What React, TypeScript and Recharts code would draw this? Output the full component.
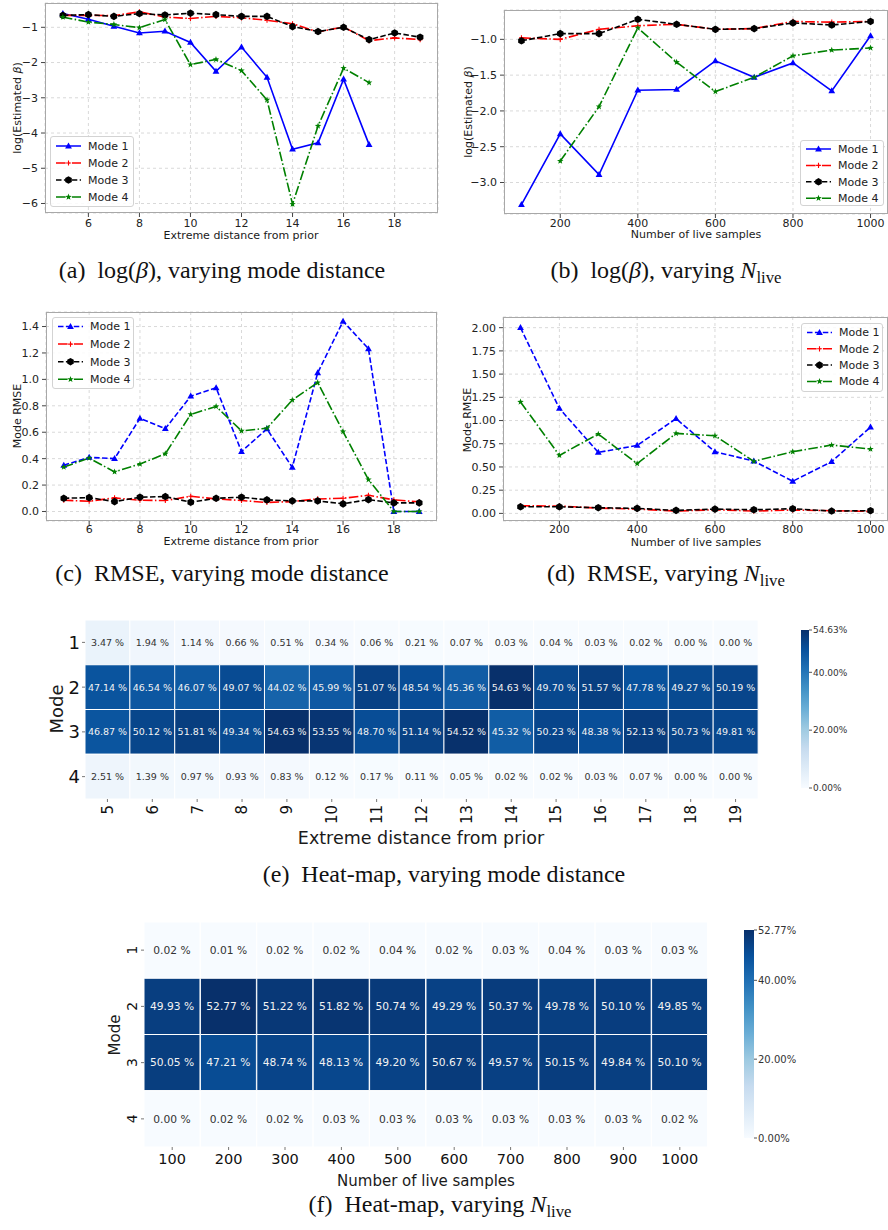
import React from 'react'
import { LineChart, Line, XAxis, YAxis, CartesianGrid, BarChart, Bar, Cell, LabelList } from 'recharts'

// x values
const distances = [5, 6, 7, 8, 9, 10, 11, 12, 13, 14, 15, 16, 17, 18, 19]
const liveSamples = [100, 200, 300, 400, 500, 600, 700, 800, 900, 1000]

// (a) log(beta) vs mode distance
const aMode1 = [-0.61, -0.77, -0.97, -1.16, -1.11, -1.43, -2.25, -1.56, -2.42, -4.46, -4.28, -2.47, -4.33, null, null]
const aMode2 = [-0.66, -0.66, -0.67, -0.56, -0.71, -0.75, -0.69, -0.73, -0.8, -0.9, -1.13, -0.99, -1.38, -1.3, -1.35]
const aMode3 = [-0.66, -0.64, -0.69, -0.61, -0.65, -0.6, -0.64, -0.69, -0.69, -0.98, -1.12, -1.0, -1.35, -1.16, -1.28]
const aMode4 = [-0.71, -0.85, -0.92, -1.01, -0.78, -2.06, -1.91, -2.23, -3.06, -6.02, -3.8, -2.16, -2.57, null, null]

// (b) log(beta) vs live samples
const bMode1 = [-3.31, -2.32, -2.89, -1.71, -1.7, -1.3, -1.53, -1.33, -1.72, -0.95]
const bMode2 = [-0.98, -1.0, -0.86, -0.81, -0.79, -0.86, -0.85, -0.75, -0.76, -0.75]
const bMode3 = [-1.02, -0.92, -0.92, -0.72, -0.79, -0.86, -0.85, -0.77, -0.8, -0.75]
const bMode4 = [null, -2.7, -1.94, -0.84, -1.32, -1.73, -1.53, -1.23, -1.15, -1.12]

// (c) RMSE vs mode distance
const cMode1 = [0.35, 0.41, 0.4, 0.705, 0.627, 0.873, 0.936, 0.454, 0.625, 0.334, 1.049, 1.44, 1.232, 0.0, 0.0]
const cMode2 = [0.085, 0.078, 0.103, 0.085, 0.083, 0.115, 0.095, 0.083, 0.068, 0.075, 0.095, 0.1, 0.123, 0.088, 0.073]
const cMode3 = [0.1, 0.105, 0.075, 0.108, 0.113, 0.07, 0.1, 0.108, 0.088, 0.08, 0.08, 0.058, 0.09, 0.065, 0.065]
const cMode4 = [0.336, 0.404, 0.3, 0.359, 0.437, 0.735, 0.795, 0.61, 0.63, 0.843, 0.976, 0.605, 0.241, 0.0, 0.0]

// (d) RMSE vs live samples
const dMode1 = [2.0, 1.13, 0.657, 0.732, 1.02, 0.664, 0.564, 0.346, 0.557, 0.929]
const dMode2 = [0.082, 0.079, 0.057, 0.046, 0.025, 0.039, 0.025, 0.036, 0.029, 0.021]
const dMode3 = [0.071, 0.071, 0.061, 0.054, 0.032, 0.046, 0.039, 0.05, 0.025, 0.029]
const dMode4 = [1.2, 0.625, 0.854, 0.536, 0.861, 0.836, 0.561, 0.664, 0.736, 0.693]

// (e) heat-map, share of samples per mode (%)
const eMode1 = [3.47, 1.94, 1.14, 0.66, 0.51, 0.34, 0.06, 0.21, 0.07, 0.03, 0.04, 0.03, 0.02, 0.0, 0.0]
const eMode2 = [47.14, 46.54, 46.07, 49.07, 44.02, 45.99, 51.07, 48.54, 45.36, 54.63, 49.7, 51.57, 47.78, 49.27, 50.19]
const eMode3 = [46.87, 50.12, 51.81, 49.34, 54.63, 53.55, 48.7, 51.14, 54.52, 45.32, 50.23, 48.38, 52.13, 50.73, 49.81]
const eMode4 = [2.51, 1.39, 0.97, 0.93, 0.83, 0.12, 0.17, 0.11, 0.05, 0.02, 0.02, 0.03, 0.07, 0.0, 0.0]
const eMax = 54.63

// (f) heat-map vs live samples (%)
const fMode1 = [0.02, 0.01, 0.02, 0.02, 0.04, 0.02, 0.03, 0.04, 0.03, 0.03]
const fMode2 = [49.93, 52.77, 51.22, 51.82, 50.74, 49.29, 50.37, 49.78, 50.1, 49.85]
const fMode3 = [50.05, 47.21, 48.74, 48.13, 49.2, 50.67, 49.57, 50.15, 49.84, 50.1]
const fMode4 = [0.0, 0.02, 0.02, 0.03, 0.03, 0.03, 0.03, 0.03, 0.03, 0.02]
const fMax = 52.77

const modeNames = ['Mode 1', 'Mode 2', 'Mode 3', 'Mode 4']
const cbTicks = [0, 20, 40]

const SANS = '"DejaVu Sans", sans-serif'
const SERIF = '"Liberation Serif", "DejaVu Serif", serif'
const DASH = '5.5 2.4'
const DASHDOT = '9.6 2.4 1.5 2.4'

const BLUES = ['#f7fbff', '#deebf7', '#c6dbef', '#9ecae1', '#6baed6', '#4292c6', '#2171b5', '#08519c', '#08306b']

function hexToRgb(h: string) {
  return [1, 3, 5].map((i) => parseInt(h.slice(i, i + 2), 16))
}

function blues(t: number) {
  const c = Math.max(0, Math.min(1, t)) * 8
  const i = Math.min(7, Math.floor(c))
  const f = c - i
  const a = hexToRgb(BLUES[i])
  const b = hexToRgb(BLUES[i + 1])
  const m = a.map((v, k) => Math.round(v + (b[k] - v) * f))
  return `rgb(${m[0]},${m[1]},${m[2]})`
}

type Kind = 'tri' | 'plus' | 'hex' | 'star'

function Marker({ kind, cx, cy, color }: { kind: Kind; cx: number; cy: number; color: string }) {
  if (kind === 'tri') {
    return <polygon points={`${cx},${cy - 3.6} ${cx - 3.4},${cy + 2.4} ${cx + 3.4},${cy + 2.4}`} fill={color} />
  }
  if (kind === 'plus') {
    return <path d={`M${cx - 2.4},${cy}H${cx + 2.4}M${cx},${cy - 2.6}V${cy + 2.6}`} stroke={color} strokeWidth={1.1} fill="none" />
  }
  if (kind === 'hex') {
    const pts = [0, 1, 2, 3, 4, 5]
      .map((k) => {
        const a = (Math.PI / 3) * k - Math.PI / 2
        return `${cx + 3.8 * Math.cos(a)},${cy + 3.8 * Math.sin(a)}`
      })
      .join(' ')
    return <polygon points={pts} fill={color} />
  }
  const star = Array.from({ length: 10 }, (_, k) => {
    const r = k % 2 === 0 ? 3.4 : 1.4
    const a = (Math.PI / 5) * k - Math.PI / 2
    return `${cx + r * Math.cos(a)},${cy + r * Math.sin(a)}`
  }).join(' ')
  return <polygon points={star} fill={color} />
}

type SeriesDef = { key: string; name: string; color: string; kind: Kind; dash?: string }

function seriesFor(mode1Dash?: string): SeriesDef[] {
  return [
    { key: 'm1', name: modeNames[0], color: '#0000ff', kind: 'tri', dash: mode1Dash },
    { key: 'm2', name: modeNames[1], color: '#ff0000', kind: 'plus', dash: DASHDOT },
    { key: 'm3', name: modeNames[2], color: '#000000', kind: 'hex', dash: DASH },
    { key: 'm4', name: modeNames[3], color: '#008000', kind: 'star', dash: DASHDOT },
  ]
}

function makeDot(kind: Kind, color: string, id: string) {
  return (p: any) => {
    const k = `${id}-${p.index}`
    if (p.cx == null || p.cy == null || p.value == null || Number.isNaN(p.cy)) return <g key={k} />
    return <Marker key={k} kind={kind} cx={p.cx} cy={p.cy} color={color} />
  }
}

function fmt(d: number) {
  return (v: number) => (v < 0 ? '\u2212' + Math.abs(v).toFixed(d) : v.toFixed(d))
}

function LegendBox({ x, y, w, h, first, gap, series }: { x: number; y: number; w: number; h: number; first: number; gap: number; series: SeriesDef[] }) {
  return (
    <div
      style={{
        position: 'absolute', left: x, top: y, width: w, height: h, boxSizing: 'border-box',
        border: '1px solid #d3d3d3', borderRadius: 3, background: 'rgba(255,255,255,0.85)',
      }}
    >
      <svg width={w} height={h} style={{ position: 'absolute', left: -1, top: -1 }}>
        {series.map((s, i) => {
          const cy = first + i * gap
          return (
            <g key={s.key}>
              <line x1={6} x2={31} y1={cy} y2={cy} stroke={s.color} strokeWidth={1.5} strokeDasharray={s.dash} />
              <Marker kind={s.kind} cx={18.5} cy={cy} color={s.color} />
              <text x={38} y={cy} dy="0.36em" fontSize={11} fontFamily={SANS} fill="#222">{s.name}</text>
            </g>
          )
        })}
      </svg>
    </div>
  )
}

function AxisTitle({ x, y, rotate, size, children }: { x: number; y: number; rotate?: boolean; size: number; children: React.ReactNode }) {
  return (
    <div
      style={{
        position: 'absolute', left: x, top: y, whiteSpace: 'nowrap', lineHeight: 1,
        fontFamily: SANS, fontSize: size, color: '#1a1a1a',
        transform: rotate ? 'translate(-50%, -50%) rotate(-90deg)' : 'translate(-50%, -50%)',
      }}
    >
      {children}
    </div>
  )
}

type LinePanelProps = {
  left: number; top: number; width: number; height: number
  mTop: number; mRight: number; yAxisWidth: number; xAxisHeight: number; xTickMargin: number
  xs: number[]; m1: (number | null)[]; m2: (number | null)[]; m3: (number | null)[]; m4: (number | null)[]
  xDomain: [number, number]; xTicks: number[]
  yDomain: [number, number]; yTicks: number[]; yDigits: number
  mode1Dash?: string
  xLabel: string; xLabelPos: [number, number]
  yLabel: React.ReactNode; yLabelPos: [number, number]
  legend: { x: number; y: number; w: number; h: number; first: number; gap: number }
}

function LinePanel(p: LinePanelProps) {
  const data = p.xs.map((x, i) => ({ x, m1: p.m1[i], m2: p.m2[i], m3: p.m3[i], m4: p.m4[i] }))
  const series = seriesFor(p.mode1Dash)
  const plotW = p.width - p.yAxisWidth - p.mRight
  const plotH = p.height - p.mTop - p.xAxisHeight
  const tick = { fontSize: 11, fill: '#222', fontFamily: SANS }
  return (
    <div style={{ position: 'absolute', left: p.left, top: p.top, width: p.width, height: p.height }}>
      <LineChart width={p.width} height={p.height} data={data} margin={{ top: p.mTop, right: p.mRight, left: 0, bottom: 0 }}>
        <CartesianGrid stroke="#d9d9d9" strokeDasharray="3 3" />
        <XAxis
          type="number" dataKey="x" domain={p.xDomain} allowDataOverflow ticks={p.xTicks} interval={0}
          height={p.xAxisHeight} tick={tick} tickSize={4} tickMargin={p.xTickMargin} axisLine={false}
          tickLine={{ stroke: '#444' }}
        />
        <YAxis
          type="number" domain={p.yDomain} allowDataOverflow ticks={p.yTicks} interval={0}
          width={p.yAxisWidth} tick={tick} tickSize={4} tickMargin={3} axisLine={false}
          tickLine={{ stroke: '#444' }} tickFormatter={fmt(p.yDigits)}
        />
        {series.map((s) => (
          <Line
            key={s.key} type="linear" dataKey={s.key} name={s.name} stroke={s.color} strokeWidth={1.6}
            strokeDasharray={s.dash} dot={makeDot(s.kind, s.color, s.key)} activeDot={false}
            isAnimationActive={false} connectNulls={false}
          />
        ))}
      </LineChart>
      <div
        style={{
          position: 'absolute', left: p.yAxisWidth, top: p.mTop, width: plotW, height: plotH,
          border: '1px solid #a8a8a8', boxSizing: 'border-box', pointerEvents: 'none',
        }}
      />
      <AxisTitle x={p.xLabelPos[0]} y={p.xLabelPos[1]} size={11}>{p.xLabel}</AxisTitle>
      <AxisTitle x={p.yLabelPos[0]} y={p.yLabelPos[1]} size={11} rotate>{p.yLabel}</AxisTitle>
      <LegendBox {...p.legend} series={series} />
    </div>
  )
}

type HeatProps = {
  left: number; top: number; width: number; height: number
  mTop: number; mRight: number; yAxisWidth: number; xAxisHeight: number
  cols: number[]; rows: number[][]; vmax: number; cellFont: number
  rotateX: boolean; xFont: number; yFont: number; rotateY: boolean
}

function HeatPanel(p: HeatProps) {
  const data = p.cols.map((c, i) => ({
    col: String(c),
    v1: p.rows[0][i], v2: p.rows[1][i], v3: p.rows[2][i], v4: p.rows[3][i],
    s1: 1, s2: 1, s3: 1, s4: 1,
  }))
  const cellLabel = (props: any) => {
    const x = Number(props.x), y = Number(props.y), w = Number(props.width), h = Number(props.height)
    const v = Number(props.value)
    const dark = v / p.vmax > 0.55
    return (
      <text
        x={x + w / 2} y={y + h / 2} dy="0.36em" textAnchor="middle" fontSize={p.cellFont}
        fontFamily={SANS} fill={dark ? '#f2f2f2' : '#333'}
      >
        {v.toFixed(2)} %
      </text>
    )
  }
  const xTick = (t: any) =>
    p.rotateX ? (
      <text x={t.x} y={t.y} transform={`rotate(-90 ${t.x} ${t.y})`} textAnchor="end" dy="0.36em" fontSize={p.xFont} fontFamily={SANS} fill="#111">
        {t.payload.value}
      </text>
    ) : (
      <text x={t.x} y={t.y} textAnchor="middle" dy="0.75em" fontSize={p.xFont} fontFamily={SANS} fill="#111">
        {t.payload.value}
      </text>
    )
  const yTick = (t: any) => {
    const label = String(t.payload.value + 0.5)
    return p.rotateY ? (
      <text x={t.x} y={t.y} transform={`rotate(-90 ${t.x} ${t.y})`} textAnchor="middle" fontSize={p.yFont} fontFamily={SANS} fill="#111">
        {label}
      </text>
    ) : (
      <text x={t.x} y={t.y} textAnchor="end" dy="0.36em" fontSize={p.yFont} fontFamily={SANS} fill="#111">
        {label}
      </text>
    )
  }
  const keys = ['1', '2', '3', '4']
  return (
    <div style={{ position: 'absolute', left: p.left, top: p.top, width: p.width, height: p.height }}>
      <BarChart
        width={p.width} height={p.height} data={data} barCategoryGap={0} barGap={0}
        margin={{ top: p.mTop, right: p.mRight, left: 0, bottom: 0 }}
      >
        <XAxis dataKey="col" interval={0} height={p.xAxisHeight} axisLine={false} tickSize={3} tickMargin={3} tickLine={{ stroke: '#777' }} tick={xTick} />
        <YAxis
          type="number" domain={[0, 4]} reversed allowDataOverflow ticks={[0.5, 1.5, 2.5, 3.5]} interval={0}
          width={p.yAxisWidth} axisLine={false} tickSize={3} tickMargin={p.rotateY ? 4 : 2} tickLine={{ stroke: '#777' }} tick={yTick}
        />
        {keys.map((k) => (
          <Bar key={k} dataKey={`s${k}`} stackId="heat" isAnimationActive={false}>
            {data.map((d: any, i) => (
              <Cell key={i} fill={blues(d[`v${k}`] / p.vmax)} stroke="#ffffff" strokeWidth={1} />
            ))}
            <LabelList dataKey={`v${k}`} content={cellLabel} />
          </Bar>
        ))}
      </BarChart>
    </div>
  )
}

function ColorBar({ left, top, width, height, mLeft, mRight, mTop, mBottom, vmax, id, font }: {
  left: number; top: number; width: number; height: number; mLeft: number; mRight: number; mTop: number; mBottom: number
  vmax: number; id: string; font: number
}) {
  const data = [{ k: 'cb', v: vmax }]
  return (
    <div style={{ position: 'absolute', left, top, width, height }}>
      <BarChart width={width} height={height} data={data} barCategoryGap={0} margin={{ top: mTop, right: 0, left: mLeft, bottom: mBottom }}>
        <defs>
          <linearGradient id={id} x1="0" y1="1" x2="0" y2="0">
            {BLUES.map((c, i) => (
              <stop key={c} offset={`${(i / 8) * 100}%`} stopColor={c} />
            ))}
          </linearGradient>
        </defs>
        <XAxis dataKey="k" hide />
        <YAxis
          orientation="right" type="number" domain={[0, vmax]} allowDataOverflow ticks={[...cbTicks, vmax]} interval={0}
          width={mRight} axisLine={false} tickSize={3} tickMargin={1} tickLine={{ stroke: '#555' }}
          tick={{ fontSize: font, fill: '#333', fontFamily: SANS }} tickFormatter={(v: number) => v.toFixed(2) + '%'}
        />
        <Bar dataKey="v" fill={`url(#${id})`} isAnimationActive={false} />
      </BarChart>
    </div>
  )
}

function Caption({ cx, top, children }: { cx: number; top: number; children: React.ReactNode }) {
  return (
    <div
      style={{
        position: 'absolute', left: cx, top, transform: 'translateX(-50%)', whiteSpace: 'nowrap',
        fontFamily: SERIF, fontSize: 24, lineHeight: 1, color: '#111',
      }}
    >
      {children}
    </div>
  )
}

const beta = <i style={{ fontFamily: SERIF }}>β</i>
const nLive = (
  <span>
    <i>N</i>
    <span style={{ fontSize: '0.7em', verticalAlign: '-0.3em' }}>live</span>
  </span>
)
const yBeta = <span>log(Estimated <i>β</i>)</span>

export default function App() {
  return (
    <div style={{ position: 'absolute', left: 0, top: 0, width: 888, height: 1230, background: '#fff', overflow: 'hidden' }}>
      <LinePanel
        left={0} top={0} width={445} height={250} mTop={3} mRight={7} yAxisWidth={45} xAxisHeight={37} xTickMargin={2}
        xs={distances} m1={aMode1} m2={aMode2} m3={aMode3} m4={aMode4}
        xDomain={[4.3, 19.7]} xTicks={[6, 8, 10, 12, 14, 16, 18]}
        yDomain={[-6.27, -0.31]} yTicks={[-6, -5, -4, -3, -2, -1]} yDigits={0}
        xLabel="Extreme distance from prior" xLabelPos={[241, 235]}
        yLabel={yBeta} yLabelPos={[17, 108]}
        legend={{ x: 50, y: 136, w: 84, h: 71, first: 10, gap: 17 }}
      />
      <LinePanel
        left={445} top={0} width={443} height={250} mTop={10} mRight={0} yAxisWidth={59} xAxisHeight={36} xTickMargin={1}
        xs={liveSamples} m1={bMode1} m2={bMode2} m3={bMode3} m4={bMode4}
        xDomain={[55, 1045]} xTicks={[200, 400, 600, 800, 1000]}
        yDomain={[-3.44, -0.59]} yTicks={[-3, -2.5, -2, -1.5, -1]} yDigits={1}
        xLabel="Number of live samples" xLabelPos={[251, 234]}
        yLabel={yBeta} yLabelPos={[23, 112]}
        legend={{ x: 355, y: 140, w: 84, h: 66, first: 9, gap: 16.4 }}
      />
      <LinePanel
        left={0} top={300} width={445} height={250} mTop={12} mRight={8} yAxisWidth={46} xAxisHeight={29} xTickMargin={0}
        xs={distances} m1={cMode1} m2={cMode2} m3={cMode3} m4={cMode4} mode1Dash={DASH}
        xDomain={[4.3, 19.7]} xTicks={[6, 8, 10, 12, 14, 16, 18]}
        yDomain={[-0.072, 1.51]} yTicks={[0, 0.2, 0.4, 0.6, 0.8, 1.0, 1.2, 1.4]} yDigits={1}
        xLabel="Extreme distance from prior" xLabelPos={[241, 241]}
        yLabel="Mode RMSE" yLabelPos={[17, 116]}
        legend={{ x: 52, y: 17, w: 82, h: 72, first: 9.5, gap: 17.6 }}
      />
      <LinePanel
        left={445} top={300} width={443} height={250} mTop={17} mRight={0} yAxisWidth={58} xAxisHeight={29} xTickMargin={0}
        xs={liveSamples} m1={dMode1} m2={dMode2} m3={dMode3} m4={dMode4} mode1Dash={DASH}
        xDomain={[55, 1045]} xTicks={[200, 400, 600, 800, 1000]}
        yDomain={[-0.082, 2.115]} yTicks={[0, 0.25, 0.5, 0.75, 1.0, 1.25, 1.5, 1.75, 2.0]} yDigits={2}
        xLabel="Number of live samples" xLabelPos={[251, 242]}
        yLabel="Mode RMSE" yLabelPos={[22, 120]}
        legend={{ x: 356, y: 23, w: 82, h: 69, first: 9.5, gap: 16.3 }}
      />

      <Caption cx={222} top={258}>(a)&ensp;log({beta}), varying mode distance</Caption>
      <Caption cx={666} top={258}>(b)&ensp;log({beta}), varying {nLive}</Caption>
      <Caption cx={222} top={561}>(c)&ensp;RMSE, varying mode distance</Caption>
      <Caption cx={666} top={561}>(d)&ensp;RMSE, varying {nLive}</Caption>

      <HeatPanel
        left={0} top={610} width={770} height={260} mTop={10} mRight={12} yAxisWidth={85} xAxisHeight={71}
        cols={distances} rows={[eMode1, eMode2, eMode3, eMode4]} vmax={eMax} cellFont={9.5}
        rotateX xFont={15} yFont={18} rotateY={false}
      />
      <AxisTitle x={57} y={709} size={18} rotate>Mode</AxisTitle>
      <AxisTitle x={421} y={839} size={17.5}>Extreme distance from prior</AxisTitle>
      <ColorBar left={790} top={620} width={100} height={180} mLeft={11} mRight={81} mTop={10} mBottom={12} vmax={eMax} id="cbE" font={9} />
      <Caption cx={444} top={862}>(e)&ensp;Heat-map, varying mode distance</Caption>

      <HeatPanel
        left={100} top={910} width={620} height={290} mTop={12} mRight={12} yAxisWidth={44} xAxisHeight={53}
        cols={liveSamples} rows={[fMode1, fMode2, fMode3, fMode4]} vmax={fMax} cellFont={10.7}
        rotateX={false} xFont={14.5} yFont={14} rotateY
      />
      <AxisTitle x={115} y={1035} size={15} rotate>Mode</AxisTitle>
      <AxisTitle x={426} y={1181} size={15}>Number of live samples</AxisTitle>
      <ColorBar left={734} top={920} width={140} height={230} mLeft={10} mRight={120} mTop={10} mBottom={12} vmax={fMax} id="cbF" font={10} />
      <Caption cx={440} top={1192}>(f)&ensp;Heat-map, varying {nLive}</Caption>
    </div>
  )
}
